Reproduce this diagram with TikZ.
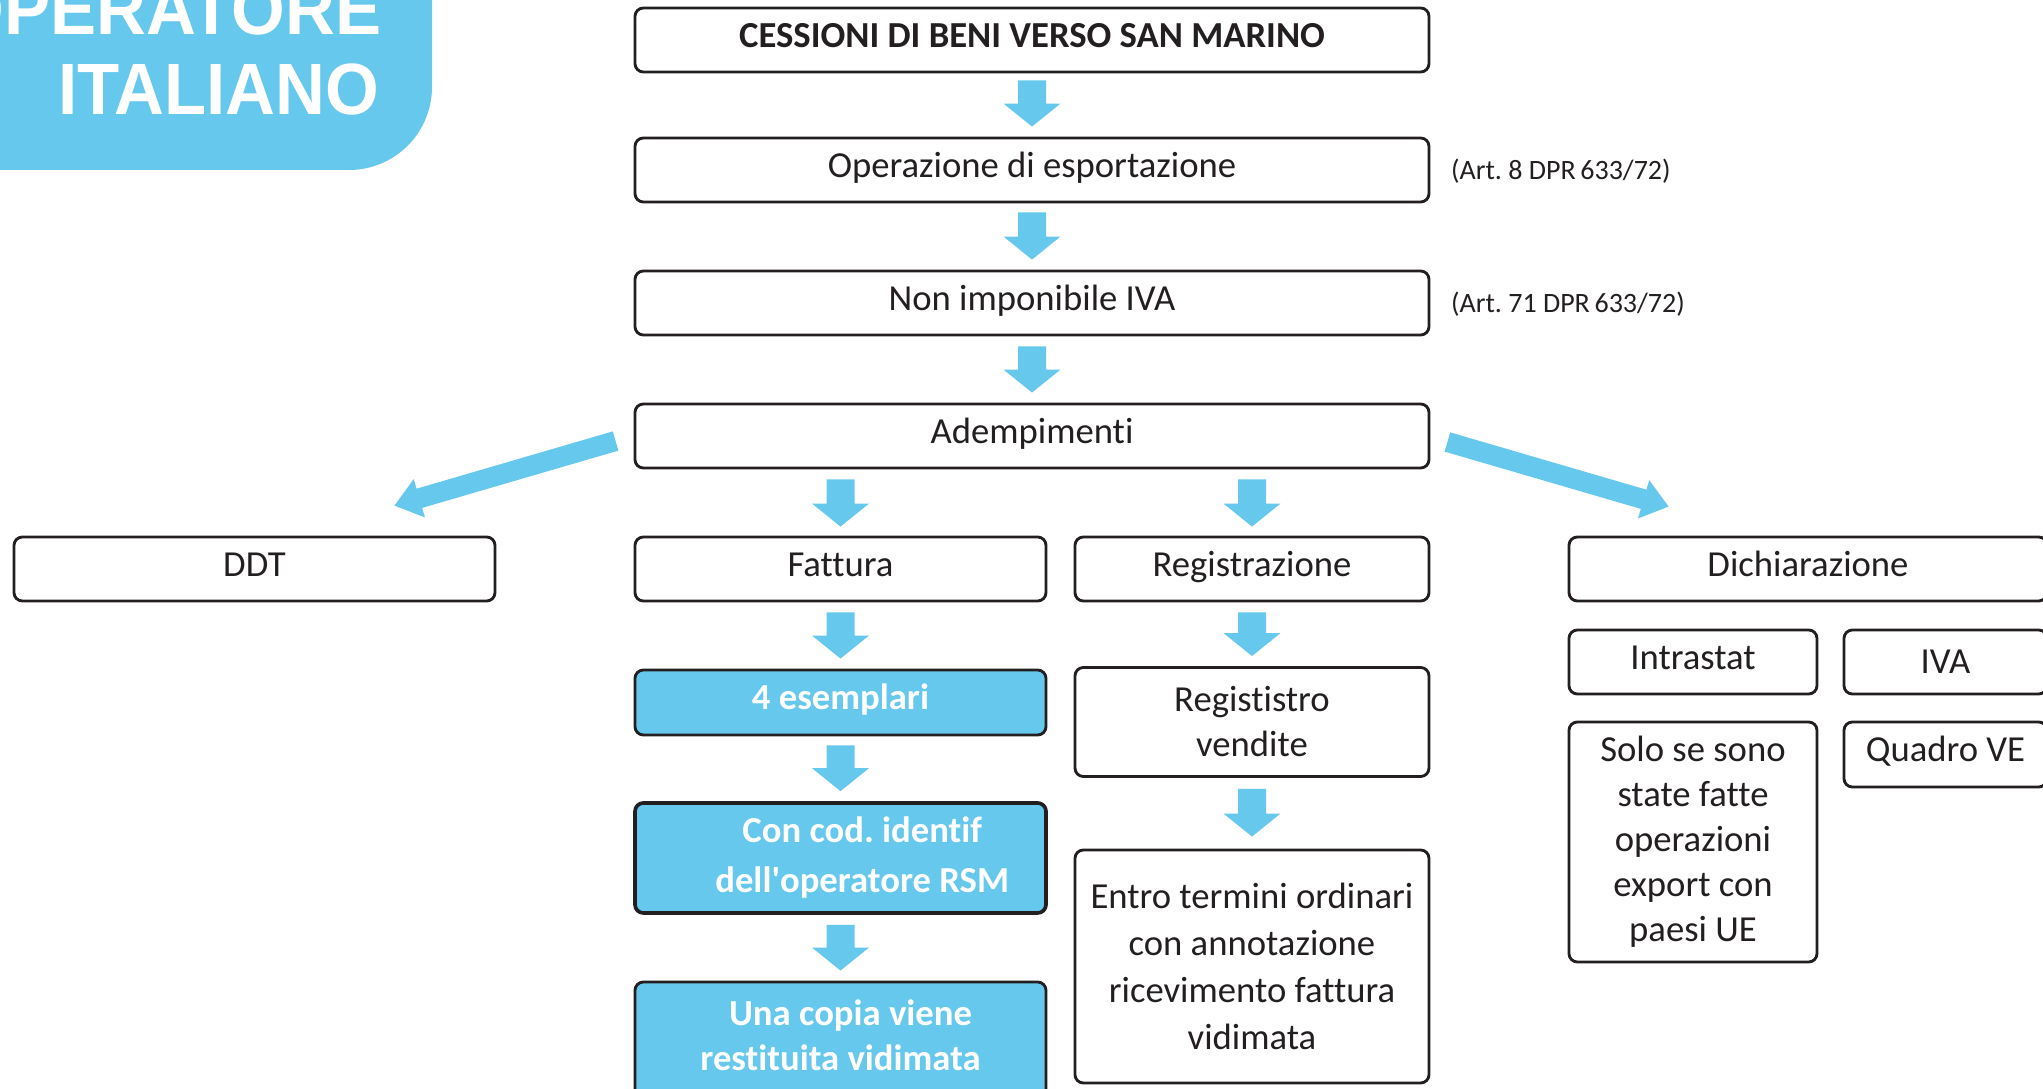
\documentclass[tikz,border=0pt]{standalone}
\usepackage{fontspec}
\setmainfont[Ligatures=CommonOff]{Carlito}
\newfontfamily\titlefont[FakeStretch=0.95]{Liberation Sans}
\usetikzlibrary{calc}
\definecolor{skyblue}{RGB}{103,200,237}
\definecolor{ink}{RGB}{35,31,32}
\newcommand\fatarrow[5]{%
  \coordinate (faS) at #1;
  \coordinate (faE) at #2;
  \coordinate (faH) at ($(faE)!#5!(faS)$);
  \fill[skyblue] ($(faS)!#3!90:(faE)$) -- ($(faH)!#3!90:(faE)$) -- ($(faH)!#4!90:(faE)$) -- (faE)
    -- ($(faH)!#4!-90:(faE)$) -- ($(faH)!#3!-90:(faE)$) -- ($(faS)!#3!-90:(faE)$) -- cycle;}
\newcommand\vfat[2]{\fatarrow{#1}{#2}{4.2pt}{8.55pt}{6.9pt}}
\newcommand\dfat[2]{\fatarrow{#1}{#2}{3pt}{6pt}{7.8pt}}
\begin{document}
\frenchspacing
\begin{tikzpicture}[x=0.3pt,y=-0.3pt,
  box/.style={draw=ink, line width=0.85pt, rounded corners=2.5pt, inner sep=0pt, align=center, text=ink,
    font=\frenchspacing\fontsize{11pt}{13.5pt}\selectfont},
  one/.style={text height=8pt, text depth=3.5pt},
  bluebox/.style={box, fill=skyblue, text=white, font=\frenchspacing\fontsize{11pt}{13.5pt}\selectfont\bfseries},
  sidelabel/.style={text=ink, inner sep=0pt, font=\frenchspacing\fontsize{8.4pt}{10pt}\selectfont},
  titletext/.style={text=white, inner sep=0pt, font=\titlefont\bfseries\fontsize{21.8pt}{24pt}\selectfont}]
\path[use as bounding box] (0,0) rectangle (2043,1089);
\clip (0,0) rectangle (2043,1089);
% title
\fill[skyblue, rounded corners=24.9pt] (-100,-100) rectangle (432,170);
\node[titletext, anchor=base east] (t1) at (382,35) {OPERATORE};
\node[titletext, anchor=base east] (t2) at (380,115) {ITALIANO};
% main column
\node[box, one, minimum width=238.2pt, minimum height=19.2pt, font=\fontsize{11pt}{13.5pt}\selectfont\bfseries] (b1) at (1032,40) {CESSIONI DI BENI VERSO SAN MARINO};
\node[box, one, minimum width=238.2pt, minimum height=19.2pt] (b2) at (1032,170) {Operazione di esportazione};
\node[box, one, minimum width=238.2pt, minimum height=19.2pt] (b3) at (1032,303) {Non imponibile IVA};
\node[box, one, minimum width=238.2pt, minimum height=19.2pt] (b4) at (1032,436) {Adempimenti};
\node[sidelabel, anchor=west] (l1) at ($(b2.east)+(20,1)$) {(Art. 8 DPR\,633/72)};
\node[sidelabel, anchor=west] (l2) at ($(b3.east)+(20,1)$) {(Art. 71 DPR\,633/72)};
% second level
\node[box, one, minimum width=144.3pt, minimum height=19.2pt] (ddt) at (254.5,569) {DDT};
\node[box, one, minimum width=123.3pt, minimum height=19.2pt] (fatt) at (840.5,569) {Fattura};
\node[box, one, minimum width=106.2pt, minimum height=19.2pt] (reg) at (1252,569) {Registrazione};
\node[box, one, minimum width=143.4pt, minimum height=19.2pt] (dich) at (1808,569) {Dichiarazione};
% fattura column
\node[bluebox, one, minimum width=123.3pt, minimum height=19.5pt] (es4) at (840.5,702.5) {4 esemplari};
\node[bluebox, line width=1.1pt, minimum width=123.3pt, minimum height=33pt,
  font=\frenchspacing\fontsize{11pt}{15pt}\selectfont\bfseries] (cod) at (840.5,858) {\hspace*{13pt}Con cod. identif\\\hspace*{13pt}dell\textquotesingle operatore RSM};
\node[bluebox, minimum width=123.3pt, minimum height=38.4pt] (copia) at (840.5,1046) {\hspace*{6pt}Una copia viene\\restituita vidimata\\[-6.9pt]\mbox{}};
% registrazione column
\node[box, minimum width=106.2pt, minimum height=32.7pt] (regv) at (1252,722) {Regististro\\vendite};
\node[box, minimum width=106.2pt, minimum height=69.9pt, font=\frenchspacing\fontsize{11pt}{14.1pt}\selectfont] (entro) at (1252,966.5)
  {Entro termini ordinari\\con annotazione\\ricevimento fattura\\vidimata};
% dichiarazione column
\node[box, one, minimum width=74.4pt, minimum height=19.2pt] (intra) at (1693,662) {Intrastat};
\node[box, minimum width=60.9pt, minimum height=19.2pt] (iva) at (1945.5,662) {IVA};
\node[box, minimum width=74.4pt, minimum height=72pt] (solo) at (1693,842) {Solo se sono\\state fatte\\operazioni\\export con\\paesi UE};
\node[box, one, minimum width=60.9pt, minimum height=19.5pt] (quadro) at (1945.5,754.5) {Quadro VE};
% arrows
\vfat{($(b1.south)+(0,7)$)}{($(b2.north)+(0,-10)$)}
\vfat{($(b2.south)+(0,9)$)}{($(b3.north)+(0,-10)$)}
\vfat{($(b3.south)+(0,10)$)}{($(b4.north)+(0,-10)$)}
\vfat{($(b4.south -| fatt.north)+(0,10)$)}{($(fatt.north)+(0,-9)$)}
\vfat{($(b4.south -| reg.north)+(0,10)$)}{($(reg.north)+(0,-9)$)}
\vfat{($(fatt.south)+(0,10)$)}{($(es4.north)+(0,-10)$)}
\vfat{($(reg.south)+(0,10)$)}{($(regv.north)+(0,-10)$)}
\vfat{($(es4.south)+(0,9)$)}{($(cod.north)+(0,-10)$)}
\vfat{($(regv.south)+(0,11)$)}{($(entro.north)+(0,-12)$)}
\vfat{($(cod.south)+(0,10)$)}{($(copia.north)+(0,-10)$)}
\dfat{($(b4.west)+(-18,5)$)}{($(ddt.north east)+(-102,-30)$)}
\dfat{($(b4.east)+(17,6)$)}{($(dich.north west)+(101,-29)$)}
\end{tikzpicture}
\end{document}
